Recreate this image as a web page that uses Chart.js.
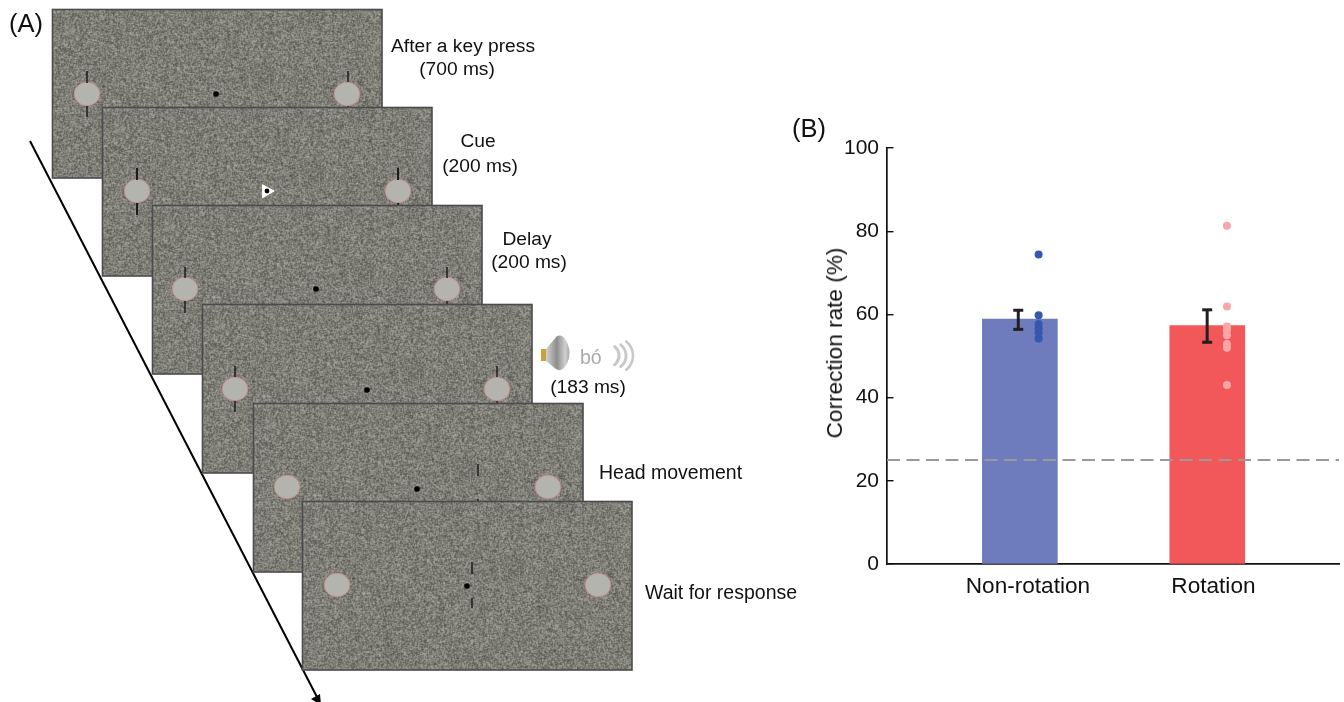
<!doctype html>
<html lang="en">
<head>
  <meta charset="utf-8">
  <title>Correction rate</title>
  <script src="https://cdn.jsdelivr.net/npm/chart.js"></script>
  <style>
    body { margin: 0; background: #fff; }
    #wrap { position: relative; width: 1344px; height: 702px; overflow: hidden; font-family: "Liberation Sans", Arial, sans-serif; color: #111; }
    #wrap span { position: absolute; white-space: nowrap; font-size: 19.2px; line-height: 22px; }
    #wrap span.c { transform: translateX(-50%); }
    #wrap span.p { font-size: 25.5px; line-height: 28px; }
    #wrap span.g { font-size: 19.5px; color: #aaa; }
    #wrap span.w { font-size: 19.5px; }
    #wrap span.ytitle { font-size: 22.6px; line-height: 26px; left: 835px; top: 343px; transform: translate(-50%, -50%) rotate(-90deg); }
  </style>
</head>
<body>
  <div id="wrap">
    <canvas id="canvas_chart" width="1344" height="702"></canvas>
    <span class="p" style="left:9px;top:9px">(A)</span>
    <span class="p" style="left:792px;top:114px">(B)</span>
    <span class="ytitle">Correction rate (%)</span>
    <span class="c" style="left:463px;top:35px">After a key press</span>
    <span class="c" style="left:457px;top:58px">(700 ms)</span>
    <span class="c" style="left:478px;top:130px">Cue</span>
    <span class="c" style="left:480px;top:155px">(200 ms)</span>
    <span class="c" style="left:527px;top:228px">Delay</span>
    <span class="c" style="left:529px;top:251px">(200 ms)</span>
    <span class="c" style="left:588px;top:376px">(183 ms)</span>
    <span class="g" style="left:580px;top:346px">bó</span>
    <span class="w" style="left:599px;top:461px">Head movement</span>
    <span class="w" style="left:645px;top:581px">Wait for response</span>
  </div>

  <script type="text/javascript">

    // panel B values (percent)
    const categories = ['Non-rotation', 'Rotation'];
    const bar_values = [58.9, 57.3];
    const err_low = [56.4, 53.3];
    const err_high = [61.0, 61.1];
    const dots_non_rotation = [74.4, 59.8, 57.7, 56.6, 55.6, 54.2];
    const dots_rotation = [81.3, 61.9, 57.1, 56.1, 55.0, 52.9, 52.0, 43.0];
    const chance_level = 25;
    const y_ticks = [0, 20, 40, 60, 80, 100];

    // where things sit along the x scale, one unit = one category
    const x_min = -0.709, x_max = 1.703;
    const bar_pos = [0, 1];
    const label_pos = [0.043, 1.033];
    const err_pos = [-0.0085, 0.9995];
    const dot_pos = [0.1, 1.105];

    // panel A stimulus frames: top left corner, circles, dot, the little vertical lines
    const frames = [
      { x: 52, y: 9, l: [87, 94], r: [347, 94], dot: [216, 94], marks: [[87, 71, 83], [87, 106, 117], [348, 71, 82], [348, 106, 117]] },
      { x: 102, y: 107, l: [137, 191], r: [398, 191], dot: [267, 191], cue: true, marks: [[137, 168, 180], [137, 203, 215], [398, 168, 180], [398, 203, 215]] },
      { x: 152, y: 205, l: [185, 289], r: [447, 289], dot: [316, 289], marks: [[185, 267, 278], [185, 301, 313], [447, 267, 278], [447, 301, 313]] },
      { x: 202, y: 304, l: [235, 389], r: [497, 389], dot: [367, 390], marks: [[235, 366, 377], [235, 401, 412], [497, 366, 377], [497, 401, 412]] },
      { x: 253, y: 403, l: [287, 487], r: [548, 487], dot: [417, 489], marks: [[478, 464, 476], [478, 499, 510]] },
      { x: 302, y: 501, l: [337, 585], r: [598, 585], dot: [467, 586], marks: [[472, 562, 574], [472, 598, 608]] }
    ];

    const frame_w = 330, frame_h = 169;

    // fine grey grain, slightly smoothed so it looks like a resampled image
    function make_noise() {
      const c = document.createElement('canvas');
      const w = frame_w, h = frame_h;
      c.width = w;
      c.height = h;
      const g = c.getContext('2d');
      const img = g.createImageData(w, h);
      const W = w + 2;
      const raw = new Float32Array(W * (h + 2));
      let s = 12345;
      for (let i = 0; i < raw.length; i++) {
        s = (Math.imul(s, 1103515245) + 12345) & 0x7fffffff;
        raw[i] = ((s >> 16) % 90) - 45;
      }
      for (let y = 0; y < h; y++) {
        for (let x = 0; x < w; x++) {
          const p = (y + 1) * W + x + 1;
          const v = 125 + (4 * raw[p] + raw[p - 1] + raw[p + 1] + raw[p - W] + raw[p + W]) / 8;
          const i = (y * w + x) * 4;
          img.data[i] = v + 1;
          img.data[i + 1] = v;
          img.data[i + 2] = v - 7;
          img.data[i + 3] = 255;
        }
      }
      g.putImageData(img, 0, 0);
      return c;
    }

    function draw_speaker(ctx) {
      const grad = ctx.createLinearGradient(546, 0, 570, 0);
      grad.addColorStop(0, '#d2d2d2');
      grad.addColorStop(0.45, '#8d8d8d');
      grad.addColorStop(0.8, '#cfcfcf');
      grad.addColorStop(1, '#a4a4a4');
      ctx.fillStyle = '#c9a23c';
      ctx.fillRect(541, 349, 6, 12);
      ctx.fillStyle = grad;
      ctx.beginPath();
      ctx.moveTo(546, 349);
      ctx.lineTo(557, 336);
      ctx.quadraticCurveTo(562, 334, 565, 339);
      ctx.quadraticCurveTo(574, 353, 565, 367);
      ctx.quadraticCurveTo(561, 372, 556, 369);
      ctx.lineTo(546, 361);
      ctx.closePath();
      ctx.fill();
      ctx.strokeStyle = '#c8c8c8';
      ctx.lineCap = 'round';
      [[607.5, 11.5, 3], [612, 14, 2.8], [615, 18, 2.6]].forEach((a) => {
        ctx.lineWidth = a[2];
        ctx.beginPath();
        ctx.arc(a[0], 355.7, a[1], -0.9, 0.9);
        ctx.stroke();
      });
      ctx.lineCap = 'butt';
    }

    const schematic = {
      id: 'schematic',
      beforeDraw(chart) {
        const ctx = chart.ctx;
        const noise = make_noise();
        ctx.save();

        // arrow behind the frames
        ctx.strokeStyle = '#000';
        ctx.lineWidth = 2;
        ctx.beginPath();
        ctx.moveTo(30, 141);
        ctx.lineTo(318, 699);
        ctx.stroke();
        ctx.fillStyle = '#000';
        ctx.beginPath();
        ctx.moveTo(311, 699);
        ctx.lineTo(320, 694);
        ctx.lineTo(321, 705);
        ctx.closePath();
        ctx.fill();

        frames.forEach((f) => {
          ctx.drawImage(noise, f.x, f.y);
          ctx.strokeStyle = '#4b4b4f';
          ctx.lineWidth = 1.6;
          ctx.strokeRect(f.x + 0.5, f.y + 0.5, frame_w - 0.5, frame_h - 0.5);

          [f.l, f.r].forEach((p) => {
            ctx.fillStyle = '#b4b4ae';
            ctx.strokeStyle = '#c98a8c';
            ctx.lineWidth = 0.9;
            ctx.beginPath();
            ctx.ellipse(p[0], p[1], 12.8, 11.8, 0, 0, Math.PI * 2);
            ctx.fill();
            ctx.stroke();
          });

          ctx.strokeStyle = '#1d1d1d';
          ctx.lineWidth = f.cue ? 2 : 1.5;
          f.marks.forEach((m) => {
            ctx.beginPath();
            ctx.moveTo(m[0], m[1]);
            ctx.lineTo(m[0], m[2]);
            ctx.stroke();
          });

          if (f.cue) {
            ctx.fillStyle = '#fff';
            ctx.beginPath();
            ctx.moveTo(262, 184);
            ctx.lineTo(275, 191);
            ctx.lineTo(262, 198.5);
            ctx.closePath();
            ctx.fill();
          }
          ctx.fillStyle = '#000';
          ctx.beginPath();
          ctx.arc(f.dot[0], f.dot[1], f.cue ? 2.4 : 2.8, 0, Math.PI * 2);
          ctx.fill();
        });

        draw_speaker(ctx);
        ctx.restore();
      }
    };

    const bar_data = bar_pos.map((x, i) => ({ x: x, y: bar_values[i] }));

    new Chart(document.getElementById('canvas_chart'), {
      type: 'bar',
      data: {
        datasets: [
          { type: 'bar', data: bar_data, backgroundColor: ['#6e7bbd', '#f25759'], barThickness: 75, order: 5 },
          { type: 'line', data: [{ x: x_min, y: chance_level }, { x: x_max, y: chance_level }], borderColor: '#9a9a9a', borderWidth: 2, borderDash: [13, 6.5], pointRadius: 0, order: 4 },
          { type: 'line', data: [{ x: err_pos[0], y: err_low[0] }, { x: err_pos[0], y: err_high[0] }], borderColor: '#231f20', borderWidth: 3, pointStyle: 'line', pointRadius: 5, pointBorderColor: '#231f20', pointBorderWidth: 3, order: 2 },
          { type: 'line', data: [{ x: err_pos[1], y: err_low[1] }, { x: err_pos[1], y: err_high[1] }], borderColor: '#231f20', borderWidth: 3, pointStyle: 'line', pointRadius: 5, pointBorderColor: '#231f20', pointBorderWidth: 3, order: 2 },
          { type: 'line', showLine: false, data: dots_non_rotation.map((v) => ({ x: dot_pos[0], y: v })), pointRadius: 4, pointBackgroundColor: '#3558ad', pointBorderWidth: 0, order: 1 },
          { type: 'line', showLine: false, data: dots_rotation.map((v) => ({ x: dot_pos[1], y: v })), pointRadius: 4, pointBackgroundColor: '#f9a6a9', pointBorderWidth: 0, order: 1 }
        ]
      },
      options: {
        responsive: false,
        animation: false,
        layout: { autoPadding: false, padding: { left: 819, top: 148, right: 5, bottom: 100 } },
        plugins: { legend: { display: false }, tooltip: { enabled: false } },
        scales: {
          x: {
            type: 'linear',
            offset: false,
            min: x_min,
            max: x_max,
            grid: { display: false },
            border: { color: '#111', width: 1.7 },
            afterBuildTicks: (axis) => { axis.ticks = label_pos.map((v) => ({ value: v })); },
            ticks: {
              autoSkip: false,
              maxRotation: 0,
              padding: 1,
              color: '#111',
              font: { family: '"Liberation Sans"', size: 22.6 },
              callback: (value, index) => categories[index]
            },
            afterFit: (axis) => { axis.height = 38; }
          },
          y: {
            min: 0,
            max: 100,
            // negative length: ticks point into the plot like the reference
            grid: { drawOnChartArea: false, drawTicks: true, tickLength: -6.5, color: '#111', lineWidth: 1.4 },
            border: { color: '#111', width: 1.7 },
            afterBuildTicks: (axis) => { axis.ticks = y_ticks.map((v) => ({ value: v })); },
            ticks: { padding: 14.5, color: '#111', font: { family: '"Liberation Sans"', size: 21 } },
            afterFit: (axis) => { axis.width = 68; }
          }
        }
      },
      plugins: [schematic]
    });

  </script>
</body>
</html>
